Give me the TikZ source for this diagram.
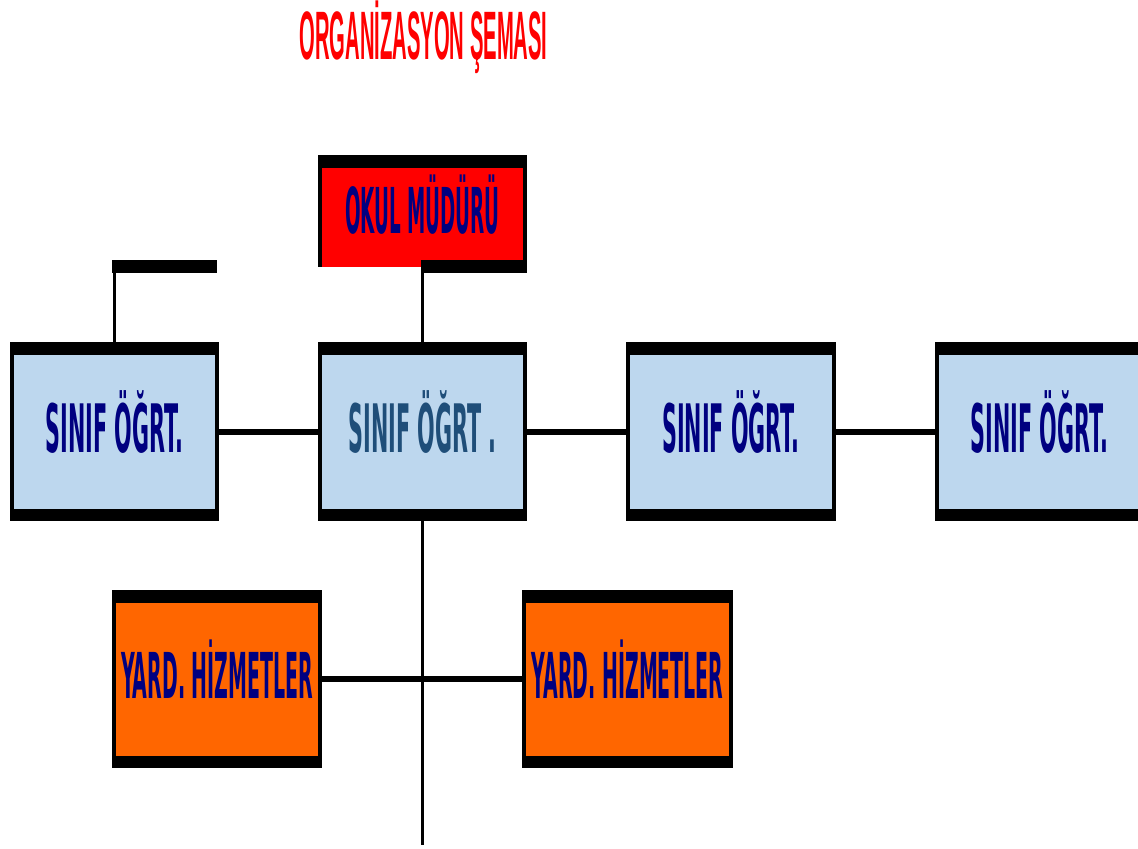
\documentclass[tikz,border=0pt]{standalone}
\usepackage{fontspec}
\usepackage{graphicx}
\setmainfont{DejaVu Sans}
\newfontfamily\baslikfont{Liberation Sans}

\definecolor{acikmavi}{RGB}{189,215,238}
\definecolor{turuncu}{RGB}{255,102,0}
\definecolor{lacivert}{RGB}{0,0,128}
\definecolor{koyumavi}{RGB}{31,78,121}

\newcommand{\dar}[2][0.31]{\scalebox{#1}[1]{#2}}

\tikzset{
  kutu/.style={rectangle, inner sep=0pt, outer sep=0pt, minimum width=2.09cm, minimum height=1.79cm,
    text=lacivert, font=\fontsize{19}{19}\selectfont\bfseries, text height=0.49cm, text depth=0.08cm,
    path picture={
      \fill[black] (path picture bounding box.north west) rectangle ([yshift=-0.125cm]path picture bounding box.north east);
      \fill[black] (path picture bounding box.south west) rectangle ([yshift=0.125cm]path picture bounding box.south east);
      \fill[black] (path picture bounding box.north west) rectangle ([xshift=0.04cm]path picture bounding box.south west);
      \fill[black] (path picture bounding box.north east) rectangle ([xshift=-0.04cm]path picture bounding box.south east);
    }},
  yardim/.style={kutu, fill=turuncu, minimum height=1.78cm, font=\fontsize{18}{18}\selectfont\bfseries, text height=0.46cm},
  mudur/.style={rectangle, inner sep=0pt, outer sep=0pt, minimum width=2.09cm, minimum height=1.18cm,
    fill=red, text=lacivert, font=\fontsize{18}{18}\selectfont\bfseries, text height=0.46cm, text depth=0.08cm,
    path picture={
      \fill[black] (path picture bounding box.north west) rectangle ([yshift=-0.125cm]path picture bounding box.north east);
      \fill[black] (path picture bounding box.north west) rectangle ([xshift=0.04cm]path picture bounding box.south west);
      \fill[black] (path picture bounding box.north east) rectangle ([xshift=-0.04cm]path picture bounding box.south east);
      \fill[white] (path picture bounding box.south west) rectangle ([xshift=1.03cm,yshift=0.06cm]path picture bounding box.south west);
      \fill[black] ([xshift=1.03cm]path picture bounding box.south west) rectangle ([yshift=0.13cm]path picture bounding box.south east);
    }},
  kalin/.style={line width=0.06cm},
  ince/.style={line width=0.03cm},
}

\begin{document}
\begin{tikzpicture}
\useasboundingbox (0,0) rectangle (11.38,8.48);
\clip (0,0) rectangle (11.38,8.48);

\node[text=red, font=\baslikfont\fontsize{19.5}{20}\selectfont\bfseries, anchor=base, inner sep=0pt] (baslik) at (4.235,7.88) {\dar[0.295]{ORGANİZASYON ŞEMASI}}; % baslik

\node[mudur] (md) at (4.225,6.34) {\dar[0.29]{OKUL MÜDÜRÜ}}; % mudur

\node[fill=black, minimum width=1.05cm, minimum height=0.13cm, inner sep=0pt, outer sep=0pt] (bos) at (1.645,5.815) {}; % bos cubuk

\node[kutu, fill=acikmavi] (s1) at (1.145,4.165) {\dar{SINIF ÖĞRT.}}; % sinif 1
\node[kutu, fill=acikmavi, text=koyumavi] (s2) at (4.225,4.165) {\dar{SINIF ÖĞRT .}}; % sinif 2
\node[kutu, fill=acikmavi, minimum width=2.10cm] (s3) at (7.31,4.165) {\dar{SINIF ÖĞRT.}}; % sinif 3
\node[kutu, fill=acikmavi] (s4) at (10.395,4.165) {\dar{SINIF ÖĞRT.}}; % sinif 4

\node[yardim, minimum width=2.10cm] (y1) at (2.17,1.69) {\dar[0.3]{YARD. HİZMETLER}}; % yardimci 1
\node[yardim, minimum width=2.11cm] (y2) at (6.275,1.69) {\dar[0.3]{YARD. HİZMETLER}}; % yardimci 2

\coordinate (alt) at (4.225,0.03); % alt uc

\draw[ince] (md.south) -- (s2.north); % mudur - sinif 2
\draw[ince] ([xshift=0.02cm]bos.south west) -- ([xshift=0.02cm]bos.south west |- s1.north); % bos - sinif 1
\draw[kalin] (s1.east) -- (s2.west); % sinif 1-2
\draw[kalin] (s2.east) -- (s3.west); % sinif 2-3
\draw[kalin] (s3.east) -- (s4.west); % sinif 3-4
\draw[ince] (s2.south) -- (alt); % dikey alt
\draw[kalin] (y1.east) -- (y2.west); % yardimci 1-2

\end{tikzpicture}
\end{document}
